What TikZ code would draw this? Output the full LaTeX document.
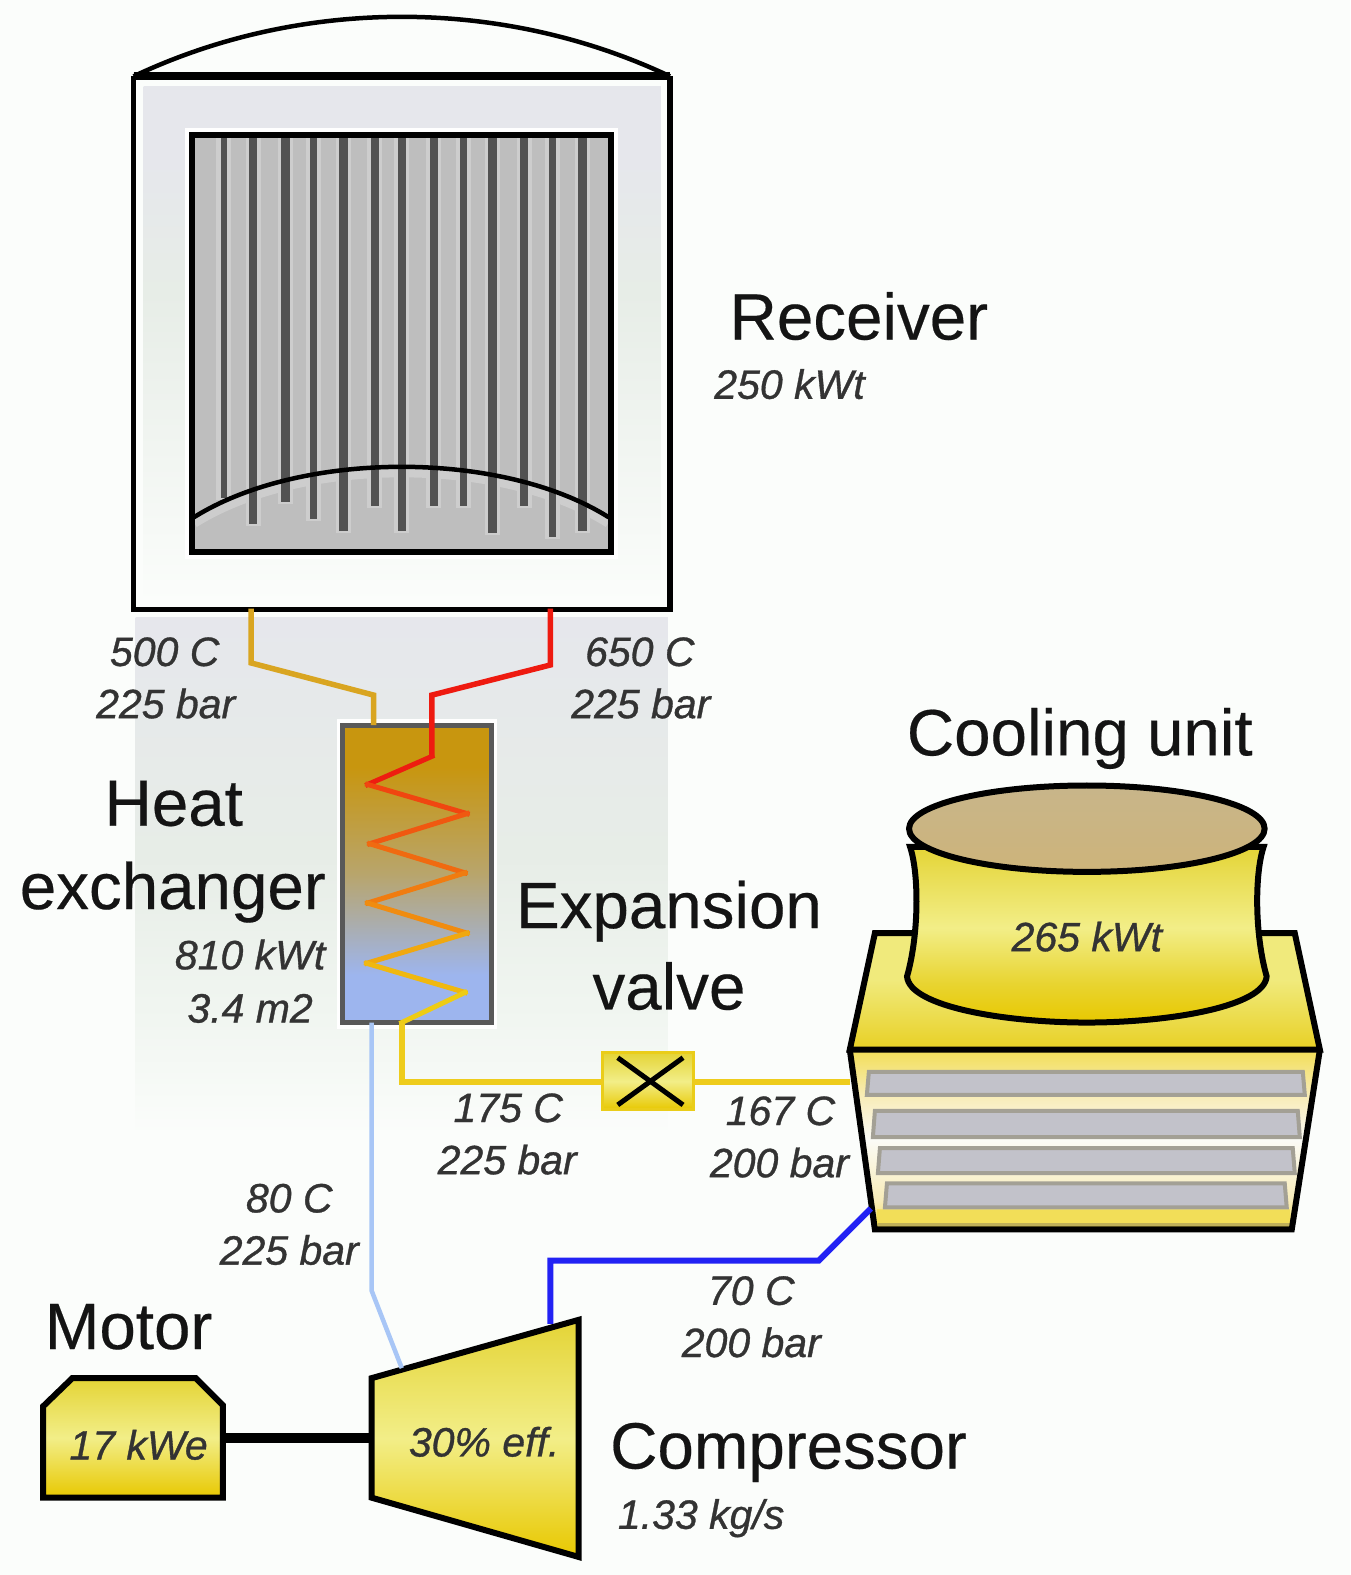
\documentclass[tikz,border=0pt]{standalone}
\usepackage{fontspec}
\setmainfont{Liberation Sans}
\definecolor{pg}{HTML}{FBFDFB}
\definecolor{lav}{HTML}{E6E7EC}
\definecolor{grn}{HTML}{E7EDE7}
\definecolor{grnb}{HTML}{F1F6F1}
\definecolor{hxt}{HTML}{C8960F}
\definecolor{hxm}{HTML}{B8A56C}
\definecolor{hxb}{HTML}{9DB5EE}
\definecolor{ya}{HTML}{E8C800}
\definecolor{yb}{HTML}{E8D430}
\definecolor{yc}{HTML}{F2EE88}
\definecolor{yd}{HTML}{E4D436}
\definecolor{ye}{HTML}{F2DE58}
\definecolor{yf}{HTML}{F8ECB8}
\definecolor{yw}{HTML}{FBFBF6}
\definecolor{tb}{HTML}{E8D024}
\definecolor{tm}{HTML}{F0EA7C}
\definecolor{tanb}{HTML}{CDB47A}
\definecolor{tant}{HTML}{C8B58A}
\definecolor{rodfill}{HTML}{BEBEBE}
\definecolor{rodlight}{HTML}{CDCDCD}
\definecolor{roddark}{HTML}{525252}
\definecolor{pipegold}{HTML}{D9A521}
\definecolor{pipered}{HTML}{EE1A10}
\definecolor{pipeyel}{HTML}{EECC1C}
\definecolor{pipelblue}{HTML}{A8C6F6}
\definecolor{pipeblue}{HTML}{2222F4}
\definecolor{slatfill}{HTML}{C2C2CA}
\definecolor{slatedge}{HTML}{A3A095}
\definecolor{labelgrey}{HTML}{333333}
\pgfdeclareverticalshading{topfade}{100bp}{color(0bp)=(pg); color(25bp)=(pg); color(55bp)=(grn); color(68bp)=(lav); color(75bp)=(lav); color(100bp)=(lav)}
\pgfdeclareverticalshading{midfade}{100bp}{color(0bp)=(pg); color(25bp)=(pg); color(36bp)=(grnb); color(52bp)=(grn); color(75bp)=(lav); color(100bp)=(lav)}
\pgfdeclareverticalshading{hxfill}{100bp}{color(0bp)=(hxb); color(25bp)=(hxb); color(33bp)=(hxb); color(50bp)=(hxm); color(68bp)=(hxt); color(75bp)=(hxt); color(100bp)=(hxt)}
\pgfdeclareverticalshading{yelbody}{100bp}{color(0bp)=(ya); color(25bp)=(ya); color(36bp)=(yb); color(52bp)=(yc); color(75bp)=(yd); color(100bp)=(yd)}
\pgfdeclareverticalshading{yelcomp}{100bp}{color(0bp)=(ya); color(25bp)=(ya); color(50bp)=(yc); color(75bp)=(yd); color(100bp)=(yd)}
\pgfdeclareverticalshading{yeltrap}{100bp}{color(0bp)=(tb); color(25bp)=(tb); color(55bp)=(tm); color(75bp)=(tm); color(100bp)=(tm)}
\pgfdeclareverticalshading{lowerunit}{100bp}{color(0bp)=(ye); color(25bp)=(ye); color(33bp)=(yf); color(50bp)=(yw); color(62bp)=(yf); color(75bp)=(ye); color(100bp)=(ye)}
\pgfdeclareverticalshading{tanfill}{100bp}{color(0bp)=(tanb); color(25bp)=(tanb); color(75bp)=(tant); color(100bp)=(tant)}
\tikzset{
  bigtext/.style={anchor=base,inner sep=0pt,text=black!92,font=\fontsize{65.5}{70}\selectfont\addfontfeatures{FakeBold=0.3}},
  smalltext/.style={anchor=base,inner sep=0pt,text=labelgrey,font=\fontsize{41}{46}\selectfont\itshape\addfontfeatures{FakeBold=0.8}},
  outline/.style={draw=black,line width=6pt,line join=miter},
  pipe/.style={line width=5.5pt,line join=miter},
  zig/.style={line width=5pt,line cap=rect},
  rodback/.style={draw=rodlight,line width=15pt},
  rod/.style={draw=roddark,line width=8pt},
  slat/.style={draw=slatedge,fill=slatfill,line width=4pt},
}
\begin{document}
\begin{tikzpicture}[x=1.0045pt,y=-1.0045pt]
\useasboundingbox (0,0) rectangle (1344,1568);
\fill[pg] (0,0) rectangle (1344,1568);
% pale backgrounds
\shade[shading=topfade] (143,86) rectangle (658,600);
\shade[shading=midfade] (135,615) rectangle (665,1130);
% receiver
\coordinate (recA) at (250,606);
\coordinate (recB) at (548,606);
\draw[line width=4.5pt,line join=miter] (133,76) .. controls (300,-3) and (500,-3) .. (667,76);
\draw[draw=black,line width=8pt] (133,76) -- (667,76);
\draw[outline,line width=5.5pt] (133,76) -- (133,607) -- (667,607) -- (667,76);
\draw[draw=white,line width=14pt] (191,134) rectangle (608,550);
\fill[rodfill] (191,134) rectangle (608,550);
% rods
\foreach \x/\e in {223/496,252/522,284/500,312/517,342/529,373/504,400/529,432/504,461/504,490/531,522/504,550/535,580/529}{
  \draw[rodback] (\x,134) -- (\x,\e+2);
}
\draw[rodlight,line width=11pt] (193,520) .. controls (300,453) and (500,453) .. (606,520);
\foreach \x/\e/\w in {223/496/6.5,252/522/8,284/500/8.5,312/517/7,342/529/9,373/504/8,400/529/8.5,432/504/8,461/504/7,490/531/9,522/504/8,550/535/7,580/529/9.5}{
  \draw[rod,line width=\w pt] (\x,134) -- (\x,\e);
}
\draw[black,line width=4.5pt] (193,515) .. controls (300,448) and (500,448) .. (606,515);
\draw[black,line width=6pt] (191,134) rectangle (608,550);
% heat exchanger
\draw[draw=white,line width=12pt] (341,722) rectangle (489,1018);
\shade[shading=hxfill] (341,722) rectangle (489,1018);
\draw[draw=black!65,line width=5pt] (341,722) rectangle (489,1018);
\coordinate (hxA) at (372,722);
\coordinate (hxB) at (430,722);
\coordinate (hxC) at (370,1018);
\coordinate (z0) at (430,753);
\coordinate (z1) at (366,781);
\coordinate (z2) at (465,810);
\coordinate (z3) at (368,840);
\coordinate (z4) at (463,869);
\coordinate (z5) at (366,899);
\coordinate (z6) at (465,929);
\coordinate (z7) at (365,959);
\coordinate (z8) at (463,988);
\coordinate (z9) at (400,1018);
\coordinate (vbend) at (400,1077);
% pipes
\draw[pipe,pipegold] (recA) -- (250,660) -- (372,692) -- (hxA);
\draw[pipe,pipered] (recB) -- (548,662) -- (430,692) -- (hxB) -- (z0);
\draw[zig,color={rgb,255:red,238;green,28;blue,16}] (z0) -- (z1);
\draw[zig,color={rgb,255:red,240;green,70;blue,16}] (z1) -- (z2);
\draw[zig,color={rgb,255:red,240;green,88;blue,16}] (z2) -- (z3);
\draw[zig,color={rgb,255:red,240;green,106;blue,16}] (z3) -- (z4);
\draw[zig,color={rgb,255:red,240;green,124;blue,16}] (z4) -- (z5);
\draw[zig,color={rgb,255:red,240;green,140;blue,16}] (z5) -- (z6);
\draw[zig,color={rgb,255:red,240;green,168;blue,16}] (z6) -- (z7);
\draw[zig,color={rgb,255:red,240;green,184;blue,16}] (z7) -- (z8);
\draw[zig,color={rgb,255:red,238;green,204;blue,20}] (z8) -- (z9);
% valve
\shade[shading=yelcomp] (600,1048) rectangle (690,1105);
\draw[draw=ya!90!white,line width=3pt] (600,1048) rectangle (690,1105);
\coordinate (valW) at (600,1077);
\coordinate (valE) at (690,1077);
\coordinate (cooW) at (846,1077);
\draw[pipe,pipeyel] (z9) -- (vbend) -- (valW);
\draw[pipe,pipeyel] (valE) -- (cooW);
\draw[black,line width=5pt] (615,1053) -- (680,1100);
\draw[black,line width=5pt] (680,1053) -- (615,1100);
% cooling unit lower
\shade[shading=lowerunit] (846,1045) -- (1314,1045) -- (1286,1224) -- (871,1224) -- cycle;
\fill[ye] (873,1204) -- (1284,1204) -- (1285,1222) -- (872,1222) -- cycle;
\foreach \xa/\xb/\ya/\yb in {865/1297/1067/1090,871/1292/1106/1132,876/1287/1143/1168,883/1279/1178/1202}{
  \draw[slat] (\xa,\ya) -- (\xb,\ya) -- (\xb+2,\yb) -- (\xa-2,\yb) -- cycle;
}
\draw[draw=slatedge!60!ya,line width=3pt] (874,1219) -- (1284,1219);
\draw[outline] (846,1045) -- (871,1224) -- (1286,1224) -- (1314,1045);
% cooling unit upper
\shade[shading=yeltrap] (871,929) -- (1289,929) -- (1314,1045) -- (846,1045) -- cycle;
\draw[outline] (846,1045) -- (871,929) -- (1289,929) -- (1314,1045) -- cycle;
% tower
\draw[shade,shading=yelbody,draw=black,line width=6pt]
  (906,843) .. controls (915,870) and (915,930) .. (903,972)
  .. controls (905,1002) and (1000,1018) .. (1082,1018)
  .. controls (1164,1018) and (1259,1002) .. (1261,972)
  .. controls (1249,930) and (1249,870) .. (1258,843) -- cycle;
\draw[shade,shading=tanfill,draw=black,line width=6pt] (1082,825) ellipse [x radius=177,y radius=43];
% compressor and motor
\draw[shade,shading=yelcomp,draw=black,line width=6pt,line join=miter] (370,1372) -- (576,1314) -- (576,1550) -- (370,1491) -- cycle;
\draw[shade,shading=yelcomp,draw=black,line width=6pt,line join=miter] (43,1400) -- (72,1372) -- (195,1372) -- (222,1399) -- (222,1491) -- (43,1491) -- cycle;
\coordinate (motE) at (222,1432);
\coordinate (comW) at (370,1432);
\coordinate (comA) at (400,1362);
\coordinate (comB) at (548,1318);
\coordinate (cooS) at (867,1203);
\draw[black,line width=10pt] (motE) -- (comW);
\draw[pipelblue,line width=4.5pt,line join=miter] (hxC) -- (370,1285) -- (comA);
\draw[pipeblue,line width=6pt,line join=miter] (comB) -- (548,1255) -- (815,1255) -- (cooS);
% big labels
\node[bigtext] (tRec) at (855,338) {Receiver};
\node[bigtext] (tHeat) at (173,822) {Heat};
\node[bigtext] (tExch) at (172,905) {exchanger};
\node[bigtext] (tExp) at (666,924) {Expansion};
\node[bigtext] (tVal) at (666,1005) {valve};
\node[bigtext] (tCool) at (1075,752) {Cooling unit};
\node[bigtext] (tMot) at (128,1343) {Motor};
\node[bigtext] (tComp) at (785,1462) {Compressor};
% small labels
\node[smalltext] (s1) at (786,397) {250 kWt};
\node[smalltext] (s2) at (164,663) {500 C};
\node[smalltext] (s3) at (165,715) {225 bar};
\node[smalltext] (s4) at (637,663) {650 C};
\node[smalltext] (s5) at (638,715) {225 bar};
\node[smalltext] (s6) at (249,965) {810 kWt};
\node[smalltext] (s7) at (249,1018) {3.4 m2};
\node[smalltext] (s8) at (506,1117) {175 C};
\node[smalltext] (s9) at (505,1169) {225 bar};
\node[smalltext] (s10) at (777,1120) {167 C};
\node[smalltext] (s11) at (776,1172) {200 bar};
\node[smalltext] (s12) at (288,1207) {80 C};
\node[smalltext] (s13) at (288,1259) {225 bar};
\node[smalltext] (s14) at (748,1299) {70 C};
\node[smalltext] (s15) at (748,1351) {200 bar};
\node[smalltext] (s16) at (698,1522) {1.33 kg/s};
\node[smalltext] (s17) at (138,1453) {17 kWe};
\node[smalltext] (s18) at (482,1450) {30\% eff.};
\node[smalltext] (s19) at (1082,947) {265 kWt};
\end{tikzpicture}
\end{document}
